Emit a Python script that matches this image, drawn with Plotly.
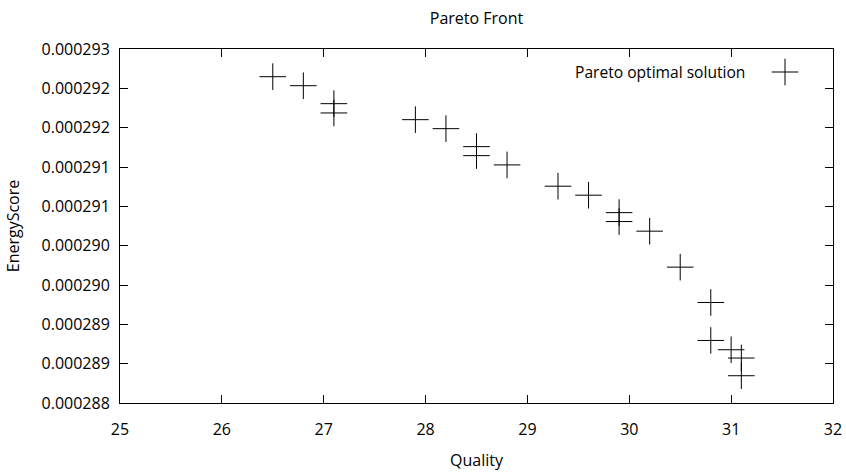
import plotly.graph_objects as go

# Pareto-optimal solutions: quality vs. energy score
quality = [26.5, 26.8, 27.1, 27.1, 27.9, 28.2, 28.5, 28.5, 28.8, 29.3, 29.6,
           29.9, 29.9, 30.2, 30.5, 30.8, 30.8, 31.0, 31.1, 31.1]
energy_score = [0.0002921480, 0.0002920335, 0.0002918050, 0.0002916870,
                0.0002916017, 0.0002914874, 0.0002912590, 0.0002911445,
                0.0002910264, 0.0002907560, 0.0002906415, 0.0002904200,
                0.0002903065, 0.0002901844, 0.0002897270, 0.0002892777,
                0.0002887950, 0.0002886770, 0.0002885715, 0.0002883467]

y_tickvals = [0.0002880, 0.0002885, 0.0002890, 0.0002895, 0.0002900,
              0.0002905, 0.0002910, 0.0002915, 0.0002920, 0.0002925]
y_ticktext = ["0.000288", "0.000289", "0.000289", "0.000290", "0.000290",
              "0.000291", "0.000291", "0.000292", "0.000292", "0.000293"]
x_tickvals = [25, 26, 27, 28, 29, 30, 31, 32]

FONT = "Open Sans"
FS = 16
W, H = 846, 473
ML, MR, MT, MB = 120, 13, 49, 70

fig = go.Figure()
fig.add_trace(go.Scatter(
    x=quality, y=energy_score, mode="markers",
    name="Pareto optimal solution",
    marker=dict(symbol="cross-thin", size=19, color="black",
                line=dict(color="black", width=1)),
    showlegend=False,
))

axis_common = dict(
    showline=True, linecolor="black", linewidth=1, mirror="ticks",
    ticks="inside", ticklen=8, tickcolor="black", tickwidth=1,
    showgrid=False, zeroline=False, automargin=False,
    tickfont=dict(family=FONT, size=FS, color="black"),
)

fig.update_xaxes(range=[25, 32], tickvals=x_tickvals, ticklabelstandoff=12,
                 title=dict(text="Quality", font=dict(family=FONT, size=FS, color="black"),
                            standoff=15),
                 **axis_common)
fig.update_yaxes(range=[0.000288, 0.0002925], tickvals=y_tickvals,
                 ticktext=y_ticktext, ticklabelstandoff=6,
                 title=dict(text="EnergyScore", font=dict(family=FONT, size=FS, color="black"),
                            standoff=17),
                 **axis_common)

# Key: label followed by the sample symbol, drawn in the top-right corner
pw = W - ML - MR
ph = H - MT - MB
cx = (785 - ML) / pw
cy = 1 - (72 - MT) / ph
hx = 13.3 / pw
hy = 13.3 / ph
fig.add_shape(type="line", xref="paper", yref="paper",
              x0=cx - hx, x1=cx + hx, y0=cy, y1=cy,
              line=dict(color="black", width=1))
fig.add_shape(type="line", xref="paper", yref="paper",
              x0=cx, x1=cx, y0=cy - hy, y1=cy + hy,
              line=dict(color="black", width=1))
fig.add_annotation(xref="paper", yref="paper", x=(747 - ML) / pw, y=cy,
                   text="Pareto optimal solution", showarrow=False,
                   xanchor="right", yanchor="middle",
                   font=dict(family=FONT, size=15.6, color="black"))

fig.update_layout(
    width=W, height=H,
    margin=dict(l=ML, r=MR, t=MT, b=MB),
    paper_bgcolor="white", plot_bgcolor="white",
    title=dict(text="Pareto Front", x=0.5, xref="paper", y=1 - 18 / H,
               yanchor="middle",
               font=dict(family=FONT, size=FS, color="black")),
)

fig.write_html("out.html")
